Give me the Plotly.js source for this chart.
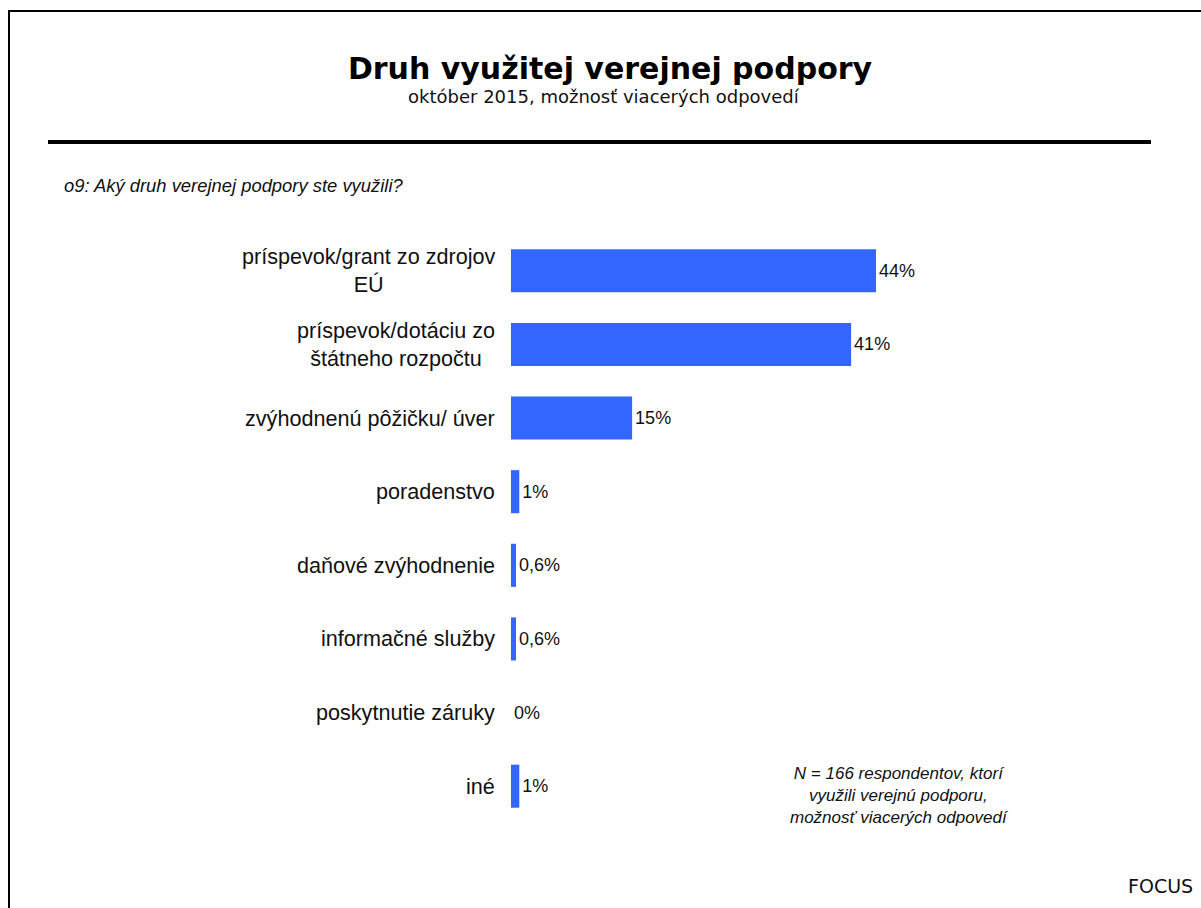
<!DOCTYPE html>
<html>
<head>
<meta charset="utf-8">
<script src="https://cdn.plot.ly/plotly-3.0.1.min.js"></script>
<style>
  html, body { margin: 0; padding: 0; background: #ffffff; }
  #chart { width: 1201px; height: 908px; }
</style>
</head>
<body>
<div id="chart"></div>
<script>
// ---- Data ----
var categories = [
  "príspevok/grant zo zdrojov<br>EÚ",
  "príspevok/dotáciu zo<br>štátneho rozpočtu",
  "zvýhodnenú pôžičku/ úver",
  "poradenstvo",
  "daňové zvýhodnenie",
  "informačné služby",
  "poskytnutie záruky",
  "iné"
];
var values = [44, 41, 14.6, 1, 0.6, 0.6, 0, 1];
var valueLabels = ["44%", "41%", "15%", "1%", "0,6%", "0,6%", "0%", "1%"];

var titleText = "Druh využitej verejnej podpory";
var subtitleText = "október 2015, možnosť viacerých odpovedí";
var questionText = "o9: Aký druh verejnej podpory ste využili?";
var noteText = "N = 166 respondentov, ktorí<br>využili verejnú podporu,<br>možnosť viacerých odpovedí";
var sourceText = "FOCUS";

// ---- Layout geometry ----
var W = 1201, H = 908;
var M = {l: 511, r: 50, t: 234, b: 85};
var plotW = W - M.l - M.r, plotH = H - M.t - M.b;
function px(x) { return (x - M.l) / plotW; }
function py(y) { return (H - M.b - y) / plotH; }

var barColor = "#3366FF";

var trace = {
  type: "bar",
  orientation: "h",
  y: categories,
  x: values,
  text: valueLabels,
  textposition: "outside",
  cliponaxis: false,
  textfont: {family: "Liberation Sans, Arial, sans-serif", size: 18, color: "#111111"},
  marker: {color: barColor, line: {width: 0}},
  width: 0.585,
  hoverinfo: "skip"
};

var annotations = [];
categories.forEach(function (c) {
  annotations.push({
    xref: "paper", yref: "y", x: 0, y: c,
    xanchor: "right", yanchor: "middle", xshift: -14,
    align: "center", showarrow: false, text: c,
    font: {family: "Liberation Sans, Arial, sans-serif", size: 21.6, color: "#111111"}
  });
});
annotations.push({
  xref: "paper", yref: "paper", x: px(604), y: py(97),
  xanchor: "center", yanchor: "middle", showarrow: false, text: subtitleText,
  font: {family: "DejaVu Sans, Verdana, sans-serif", size: 18, color: "#111111"}
});
annotations.push({
  xref: "paper", yref: "paper", x: px(62), y: py(185),
  xanchor: "left", yanchor: "middle", showarrow: false, text: "<i>" + questionText + "</i>",
  font: {family: "Liberation Sans, Arial, sans-serif", size: 18.4, color: "#111111"}
});
annotations.push({
  xref: "paper", yref: "paper", x: px(899), y: py(795),
  xanchor: "center", yanchor: "middle", align: "center", showarrow: false, text: "<i>" + noteText + "</i>",
  font: {family: "Liberation Sans, Arial, sans-serif", size: 17, color: "#111111"}
});
annotations.push({
  xref: "paper", yref: "paper", x: px(1195), y: py(886),
  xanchor: "right", yanchor: "middle", showarrow: false, text: sourceText,
  font: {family: "DejaVu Sans, Verdana, sans-serif", size: 19, color: "#111111"}
});

var shapes = [
  {type: "rect", xref: "paper", yref: "paper",
   x0: px(9), x1: px(1215), y0: py(11), y1: py(925),
   line: {color: "#000000", width: 2}, fillcolor: "rgba(0,0,0,0)"},
  {type: "line", xref: "paper", yref: "paper",
   x0: px(48), x1: px(1151), y0: py(142), y1: py(142),
   line: {color: "#000000", width: 4}}
];

var layout = {
  width: W, height: H,
  margin: M,
  paper_bgcolor: "#ffffff",
  plot_bgcolor: "#ffffff",
  showlegend: false,
  title: {
    text: "<b>" + titleText + "</b>",
    x: 610 / W, xref: "container", xanchor: "center",
    y: 1 - 68 / H, yref: "container", yanchor: "middle",
    font: {family: "DejaVu Sans, Verdana, sans-serif", size: 30, color: "#000000"}
  },
  xaxis: {range: [0, 44 * plotW / 365], visible: false, fixedrange: true},
  yaxis: {type: "category", autorange: "reversed", showticklabels: false,
          showgrid: false, zeroline: false, showline: false, ticks: "", fixedrange: true},
  annotations: annotations,
  shapes: shapes,
  bargap: 0.4
};

Plotly.newPlot("chart", [trace], layout, {displayModeBar: false, staticPlot: true});
</script>
</body>
</html>
